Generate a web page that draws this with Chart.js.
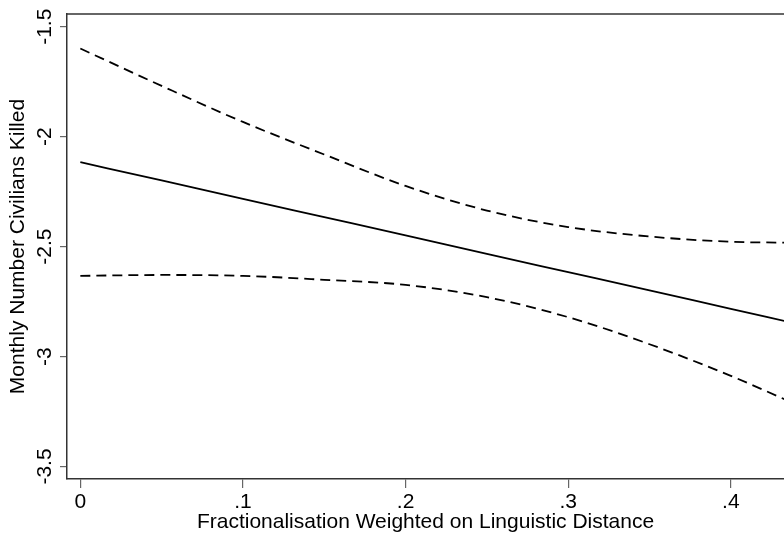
<!DOCTYPE html>
<html>
<head>
<meta charset="utf-8">
<script src="https://cdn.jsdelivr.net/npm/chart.js@4/dist/chart.umd.min.js"></script>
<style>
  html, body { margin: 0; padding: 0; background: #fff; }
  #wrap { width: 784px; height: 537px; }
</style>
</head>
<body>
<div id="wrap"><canvas id="c" width="784" height="537"></canvas></div>
<script>
// Data
const xValues   = [0, 0.05, 0.1, 0.15, 0.2, 0.25, 0.3, 0.35, 0.4, 0.433];
const estimate  = [-2.116, -2.199, -2.283, -2.366, -2.449, -2.533, -2.616, -2.699, -2.783, -2.838];
const upperCI   = [-1.599, -1.769, -1.933, -2.081, -2.224, -2.336, -2.411, -2.454, -2.478, -2.482];
const lowerCI   = [-2.633, -2.629, -2.633, -2.651, -2.674, -2.730, -2.821, -2.944, -3.088, -3.194];
const xTicks = [0, 0.1, 0.2, 0.3, 0.4];
const xTickLabels = ['0', '.1', '.2', '.3', '.4'];
const yTicks = [-3.5, -3, -2.5, -2, -1.5];
const yTickLabels = ['-3.5', '-3', '-2.5', '-2', '-1.5'];
const xTitle = 'Fractionalisation Weighted on Linguistic Distance';
const yTitle = 'Monthly Number Civilians Killed';

const pts = arr => xValues.map((x, i) => ({x: x, y: arr[i]}));
const FONT = 'Liberation Sans, Arial, Helvetica, sans-serif';
const FS = 21;

const frameAndLabels = {
  id: 'frameAndLabels',
  afterDraw(chart) {
    const {ctx, chartArea} = chart;
    const ys = chart.scales.y;
    ctx.save();
    ctx.strokeStyle = '#333';
    ctx.lineWidth = 1.5;
    ctx.beginPath();
    ctx.moveTo(chartArea.left - 0.75, chartArea.top);
    ctx.lineTo(chartArea.right + 1, chartArea.top);
    ctx.stroke();
    // rotated y tick labels, reading bottom-to-top
    ctx.fillStyle = '#000';
    ctx.font = FS + 'px ' + FONT;
    ctx.textAlign = 'center';
    ctx.textBaseline = 'alphabetic';
    yTicks.forEach((v, i) => {
      const py = ys.getPixelForValue(v);
      ctx.save();
      ctx.translate(50.5, py);
      ctx.rotate(-Math.PI / 2);
      ctx.fillText(yTickLabels[i], 0, 0);
      ctx.restore();
    });
    ctx.restore();
  }
};

new Chart(document.getElementById('c'), {
  type: 'line',
  data: {
    datasets: [
      { label: 'Estimate', data: pts(estimate), borderColor: '#000', borderWidth: 1.8,
        pointRadius: 0, fill: false, cubicInterpolationMode: 'monotone' },
      { label: 'Upper', data: pts(upperCI), borderColor: '#000', borderWidth: 1.8,
        borderDash: [10, 6], pointRadius: 0, fill: false, cubicInterpolationMode: 'monotone' },
      { label: 'Lower', data: pts(lowerCI), borderColor: '#000', borderWidth: 1.8,
        borderDash: [10, 6], pointRadius: 0, fill: false, cubicInterpolationMode: 'monotone' }
    ]
  },
  options: {
    responsive: false,
    animation: false,
    devicePixelRatio: 1,
    layout: { padding: { top: 14, right: 0, left: 0, bottom: 0 } },
    plugins: { legend: { display: false }, tooltip: { enabled: false } },
    scales: {
      x: {
        type: 'linear',
        min: -0.0082, max: 0.4327,
        afterBuildTicks: s => { s.ticks = xTicks.map(v => ({value: v})); },
        afterFit: s => { s.height = 58; },
        ticks: {
          font: { family: FONT, size: FS }, color: '#000', padding: 2,
          maxRotation: 0, autoSkip: false,
          callback: (v) => { const i = xTicks.indexOf(v); return i >= 0 ? xTickLabels[i] : ''; }
        },
        grid: { display: true, drawOnChartArea: false, drawTicks: true, tickLength: 9, color: '#666', lineWidth: 1.2 },
        border: { display: true, color: '#333', width: 1.5 },
        title: { display: true, text: xTitle, font: { family: FONT, size: FS }, color: '#000', padding: { top: 0, bottom: 2 } }
      },
      y: {
        type: 'linear',
        min: -3.557, max: -1.442,
        afterBuildTicks: s => { s.ticks = yTicks.map(v => ({value: v})); },
        afterFit: s => { s.width = 67; },
        ticks: { display: false },
        grid: { display: true, drawOnChartArea: false, drawTicks: true, tickLength: 7, color: '#666', lineWidth: 1.2 },
        border: { display: true, color: '#333', width: 1.5 },
        title: { display: true, text: yTitle, font: { family: FONT, size: FS }, color: '#000', padding: { top: 6, bottom: 0 } }
      }
    }
  },
  plugins: [frameAndLabels]
});
</script>
</body>
</html>
